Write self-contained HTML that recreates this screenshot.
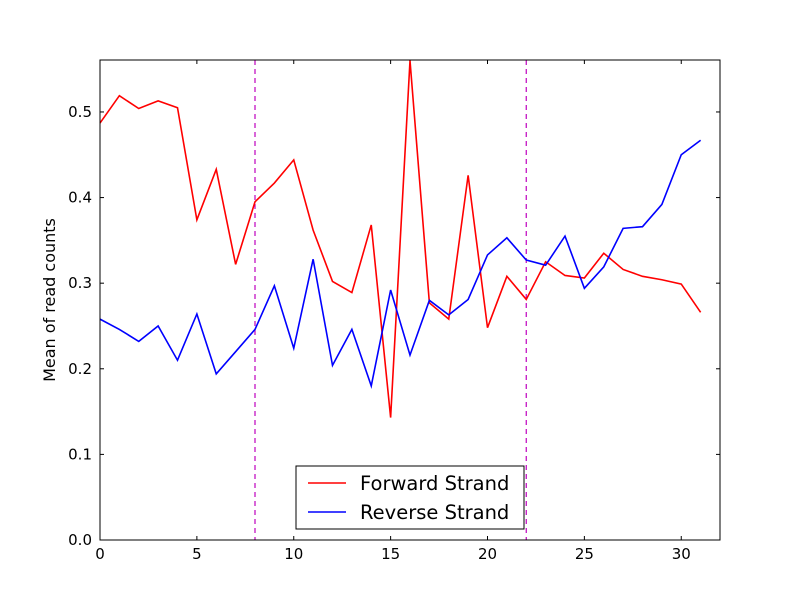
<!DOCTYPE html>
<html><head><meta charset="utf-8"><style>
body{margin:0;background:#fff}
svg{display:block;font-family:"DejaVu Sans","Liberation Sans",sans-serif}
</style></head><body>
<svg id="chart" width="800" height="600" viewBox="0 0 800 600"></svg>
<script>
const positions = [0,1,2,3,4,5,6,7,8,9,10,11,12,13,14,15,16,17,18,19,20,21,22,23,24,25,26,27,28,29,30,31];
const forwardValues = [0.487,0.519,0.504,0.513,0.505,0.374,0.433,0.322,0.395,0.417,0.444,0.362,0.302,0.289,0.368,0.143,0.56,0.277,0.258,0.426,0.248,0.308,0.281,0.325,0.309,0.306,0.335,0.316,0.308,0.304,0.299,0.266];
const reverseValues = [0.258,0.246,0.232,0.250,0.210,0.264,0.194,0.220,0.246,0.297,0.224,0.328,0.204,0.246,0.180,0.292,0.216,0.280,0.263,0.281,0.333,0.353,0.327,0.321,0.355,0.294,0.319,0.364,0.366,0.392,0.450,0.467];
const xTicks = [0,5,10,15,20,25,30];
const yTicks = [0.0,0.1,0.2,0.3,0.4,0.5];
const markerLines = [8,22];

const svg = document.getElementById('chart');
const NS = 'http://www.w3.org/2000/svg';
const L=100,R=720,T=60,B=540, XMAX=32, YMAX=0.5607;
const xs = v => L + v/XMAX*(R-L);
const ys = v => B - v/YMAX*(B-T);
function mk(tag, attrs){const e=document.createElementNS(NS,tag);for(const k in attrs)e.setAttribute(k,attrs[k]);svg.appendChild(e);return e;}

markerLines.forEach(m=>{
  const l=mk('line',{x1:xs(m),x2:xs(m),y1:T,y2:B,stroke:'#bf00bf','stroke-width':1.2,'stroke-dasharray':'5,4'});
  
  
});

function series(vals,color,name){
  const p=mk('polyline',{points:vals.map((v,i)=>xs(positions[i])+','+ys(v)).join(' '),fill:'none',stroke:color,'stroke-width':1.6});
  
  
}
series(forwardValues,'#ff0000','forward-strand-line');
series(reverseValues,'#0000ff','reverse-strand-line');

const frame=mk('rect',{x:L,y:T,width:R-L,height:B-T,fill:'none',stroke:'#000','stroke-width':1});



xTicks.forEach(t=>{
  mk('line',{x1:xs(t),x2:xs(t),y1:B,y2:B-4,stroke:'#000'});
  mk('line',{x1:xs(t),x2:xs(t),y1:T,y2:T+4,stroke:'#000'});
  const tx=mk('text',{x:xs(t),y:B+19,'text-anchor':'middle','font-size':15});
  tx.textContent=t;
  
  
});
yTicks.forEach(t=>{
  mk('line',{x1:L,x2:L+4,y1:ys(t),y2:ys(t),stroke:'#000'});
  mk('line',{x1:R,x2:R-4,y1:ys(t),y2:ys(t),stroke:'#000'});
  const tx=mk('text',{x:L-8,y:ys(t)+5,'text-anchor':'end','font-size':15});
  tx.textContent=t.toFixed(1);
  
  
});
const yt=mk('text',{x:55,y:300,'text-anchor':'middle','font-size':16,transform:'rotate(-90 55 300)'});
yt.textContent='Mean of read counts';



const lg=mk('rect',{x:296,y:466,width:228,height:63,fill:'#fff',stroke:'#000'});


[['Forward Strand','#ff0000',483],['Reverse Strand','#0000ff',512]].forEach(([n,c,y])=>{
  mk('line',{x1:308,x2:346,y1:y,y2:y,stroke:c,'stroke-width':1.6});
  const tx=mk('text',{x:360,y:y+7,'font-size':19.5});
  tx.textContent=n;
  
  
});
</script>
</body></html>
